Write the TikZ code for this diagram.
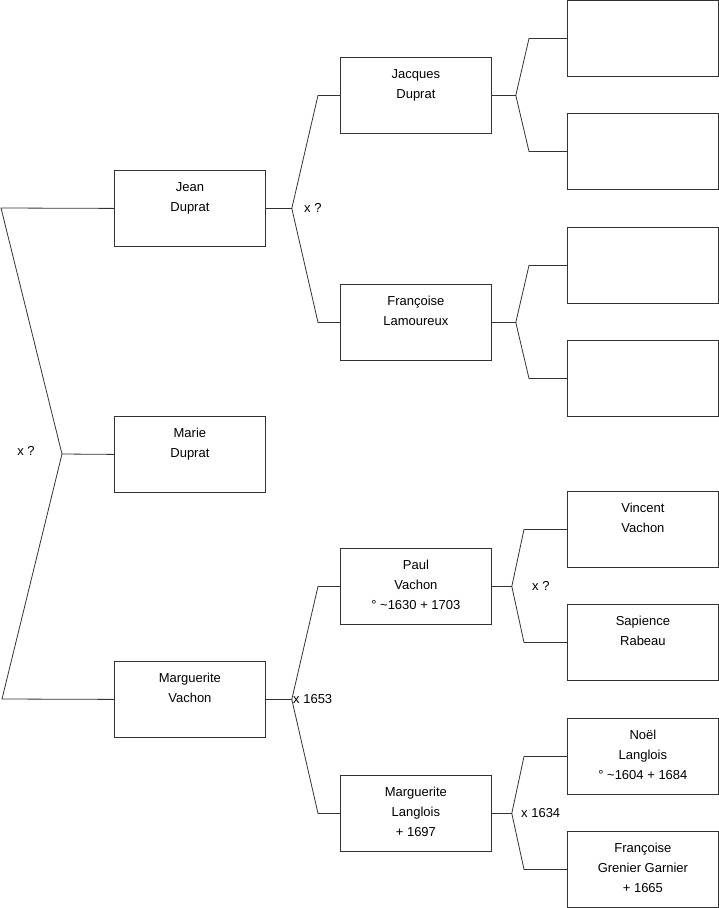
\documentclass[tikz,border=0pt]{standalone}
\usepackage{fontspec}
\setmainfont{Liberation Sans}
\usetikzlibrary{positioning}

% box contents: names set from the top of the box
\newcommand{\persontext}[1]{%
  \parbox[c][76pt][t]{151pt}{\fontsize{13}{20}\selectfont\centering
    \vspace*{7pt}\strut#1}}

\begin{document}
\begin{tikzpicture}[x=1pt,y=-1pt,line width=0.8pt,draw=black!80,
  person/.style={draw,rectangle,inner sep=0pt,anchor=north west},
  lbl/.style={inner sep=0pt,font=\fontsize{13}{16}\selectfont}]
  \useasboundingbox (0,0) rectangle (719,908);

  % first column
  \node[person] (jean)  at (114,170) {\persontext{Jean\\Duprat}};
  \node[person] (marie) at (114,416) {\persontext{Marie\\Duprat}};
  \node[person] (margV) at (114,661) {\persontext{Marguerite\\Vachon}};

  % second column
  \node[person] (jacques)    at (340,57)  {\persontext{Jacques\\Duprat}};
  \node[person] (francoiseL) at (340,284) {\persontext{Françoise\\Lamoureux}};
  \node[person] (paul)       at (340,548) {\persontext{Paul\\Vachon\\° \textasciitilde1630 + 1703}};
  \node[person] (margL)      at (340,775) {\persontext{Marguerite\\Langlois\\+ 1697}};

  % third column (four of them unknown)
  \node[person] (jacquesP)    at (567,0)   {\persontext{}};
  \node[person] (jacquesM)    at (567,113) {\persontext{}};
  \node[person] (francoiseP)  at (567,227) {\persontext{}};
  \node[person] (francoiseM)  at (567,340) {\persontext{}};
  \node[person] (vincent)     at (567,491) {\persontext{Vincent\\Vachon}};
  \node[person] (sapience)    at (567,604) {\persontext{Sapience\\Rabeau}};
  \node[person] (noel)        at (567,718) {\persontext{Noël\\Langlois\\° \textasciitilde1604 + 1684}};
  \node[person] (francoiseG)  at (567,831) {\persontext{Françoise\\Grenier Garnier\\+ 1665}};

  % parents of Marie
  \coordinate (f0)  at (62,454);
  \coordinate (c0a) at (1,208);
  \coordinate (c0b) at (2,699);
  \draw (jean.west) -- (c0a) -- (f0) -- (c0b) -- (margV.west);
  \draw (f0) -- (marie.west);
  \node[lbl,anchor=east] (x0) at (35,451) {x ?};

  % parents of Jean
  \coordinate (fJean) at ([xshift=26pt]jean.east);
  \draw (jean.east) -- (fJean) -- ([xshift=-22pt]jacques.west) -- (jacques.west);
  \draw (fJean) -- ([xshift=-22pt]francoiseL.west) -- (francoiseL.west);
  \node[lbl,right=12pt of fJean] (xJean) {x ?};

  % parents of Marguerite Vachon
  \coordinate (fMargV) at ([xshift=26pt]margV.east);
  \draw (margV.east) -- (fMargV) -- ([xshift=-22pt]paul.west) -- (paul.west);
  \draw (fMargV) -- ([xshift=-22pt]margL.west) -- (margL.west);
  \node[lbl,right=1pt of fMargV] (xMargV) {x 1653};

  % parents of Jacques and Francoise
  \coordinate (fJacques) at ([xshift=24pt]jacques.east);
  \draw (jacques.east) -- (fJacques) -- ([xshift=-38pt]jacquesP.west) -- (jacquesP.west);
  \draw (fJacques) -- ([xshift=-38pt]jacquesM.west) -- (jacquesM.west);
  \coordinate (fFrancoise) at ([xshift=24pt]francoiseL.east);
  \draw (francoiseL.east) -- (fFrancoise) -- ([xshift=-38pt]francoiseP.west) -- (francoiseP.west);
  \draw (fFrancoise) -- ([xshift=-38pt]francoiseM.west) -- (francoiseM.west);

  % parents of Paul
  \coordinate (fPaul) at ([xshift=20pt]paul.east);
  \draw (paul.east) -- (fPaul) -- ([xshift=-43pt]vincent.west) -- (vincent.west);
  \draw (fPaul) -- ([xshift=-43pt]sapience.west) -- (sapience.west);
  \node[lbl,right=20pt of fPaul] (xPaul) {x ?};

  % parents of Marguerite Langlois
  \coordinate (fMargL) at ([xshift=20pt]margL.east);
  \draw (margL.east) -- (fMargL) -- ([xshift=-43pt]noel.west) -- (noel.west);
  \draw (fMargL) -- ([xshift=-43pt]francoiseG.west) -- (francoiseG.west);
  \node[lbl,right=9pt of fMargL] (xMargL) {x 1634};
\end{tikzpicture}
\end{document}
